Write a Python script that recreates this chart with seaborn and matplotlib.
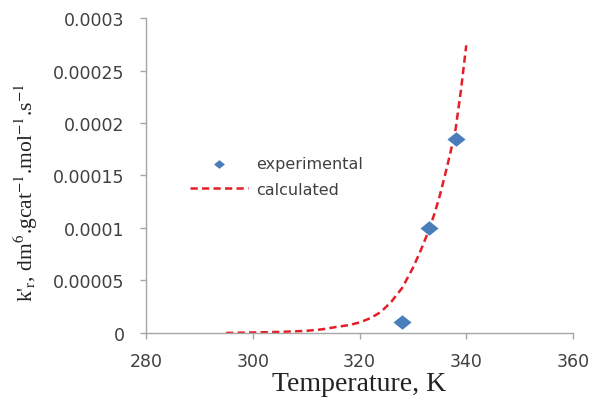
import matplotlib
matplotlib.use("Agg")
import matplotlib.pyplot as plt
import seaborn as sns
import pandas as pd
from matplotlib.path import Path
from matplotlib.ticker import FixedLocator, FixedFormatter

# experimental data
exp_T = [328, 333, 338]
exp_k = [0.00001, 0.0001, 0.000185]

# calculated curve
calc_T = [295, 300, 305, 310, 313, 316, 318, 320, 322, 324, 326, 328, 330, 331.5,
          333, 334, 335, 336, 337, 338, 339, 340]
calc_k = [0.0, 0.0000005, 0.000001, 0.000002, 0.0000035, 0.000006, 0.0000075, 0.00001,
          0.000014, 0.00002, 0.000030, 0.000043, 0.000062, 0.000079,
          0.000098, 0.000113, 0.00013, 0.00015, 0.000171, 0.000194, 0.000231, 0.000274]

x_ticks = [280, 300, 320, 340, 360]
y_ticks = [0, 0.00005, 0.0001, 0.00015, 0.0002, 0.00025, 0.0003]
y_tick_labels = ["0", "0.00005", "0.0001", "0.00015", "0.0002", "0.00025", "0.0003"]

sns.set_style("white")
plt.rcParams["font.family"] = ["DejaVu Sans"]
plt.rcParams["mathtext.fontset"] = "stix"

fig = plt.figure(figsize=(5.97, 4.02), dpi=100)
ax = fig.add_axes([0.2446, 0.1692, 0.7152, 0.7835])

df_calc = pd.DataFrame({"T": calc_T, "k": calc_k})
df_exp = pd.DataFrame({"T": exp_T, "k": exp_k})

diamond = Path([(-1, 0), (0, 0.8), (1, 0), (0, -0.8), (-1, 0)],
               [Path.MOVETO, Path.LINETO, Path.LINETO, Path.LINETO, Path.CLOSEPOLY])

sns.lineplot(data=df_calc, x="T", y="k", ax=ax, color="#e41e26", linewidth=1.8,
             label="calculated", zorder=2)
ax.lines[-1].set_dashes([2.9, 1.7])
sns.scatterplot(data=df_exp, x="T", y="k", ax=ax, marker=diamond, s=170, color="#4a7ebb",
                edgecolor="#4a7ebb", linewidth=0, label="experimental", zorder=3)

ax.set_xlim(280, 360)
ax.set_ylim(0, 0.0003)
ax.xaxis.set_major_locator(FixedLocator(x_ticks))
ax.yaxis.set_major_locator(FixedLocator(y_ticks))
ax.yaxis.set_major_formatter(FixedFormatter(y_tick_labels))
ax.tick_params(axis="both", direction="out", length=4.5, width=1, color="#a6a6a6",
               labelsize=12.5, labelcolor="#404040", bottom=True, left=True)
ax.tick_params(axis="y", pad=11)
ax.tick_params(axis="x", pad=9)
for s in ["top", "right"]:
    ax.spines[s].set_visible(False)
for s in ["left", "bottom"]:
    ax.spines[s].set_color("#a6a6a6")
    ax.spines[s].set_linewidth(1)

ax.set_xlabel("Temperature, K", family="Liberation Serif", fontsize=20, color="#222222", labelpad=1)
ax.set_ylabel(r"k'$_{\mathrm{r}}$, dm$^{6}$.gcat$^{-1}$.mol$^{-1}$.s$^{-1}$",
              family="Liberation Serif", fontsize=15.5, color="#222222")
ax.yaxis.set_label_coords(-0.248, 0.45)

h, l = ax.get_legend_handles_labels()
if ax.get_legend() is not None:
    ax.get_legend().remove()
order = [l.index("experimental"), l.index("calculated")]
leg = fig.legend([h[i] for i in order], [l[i] for i in order], frameon=False,
                 loc="center left", bbox_to_anchor=(190 / 597, 1 - 177.5 / 402),
                 bbox_transform=fig.transFigure, borderpad=0, borderaxespad=0,
                 fontsize=11.5, handlelength=3.6, handletextpad=0.55, labelspacing=0.65,
                 labelcolor="#404040", markerscale=0.6)

fig.savefig("out.png", dpi=100)
